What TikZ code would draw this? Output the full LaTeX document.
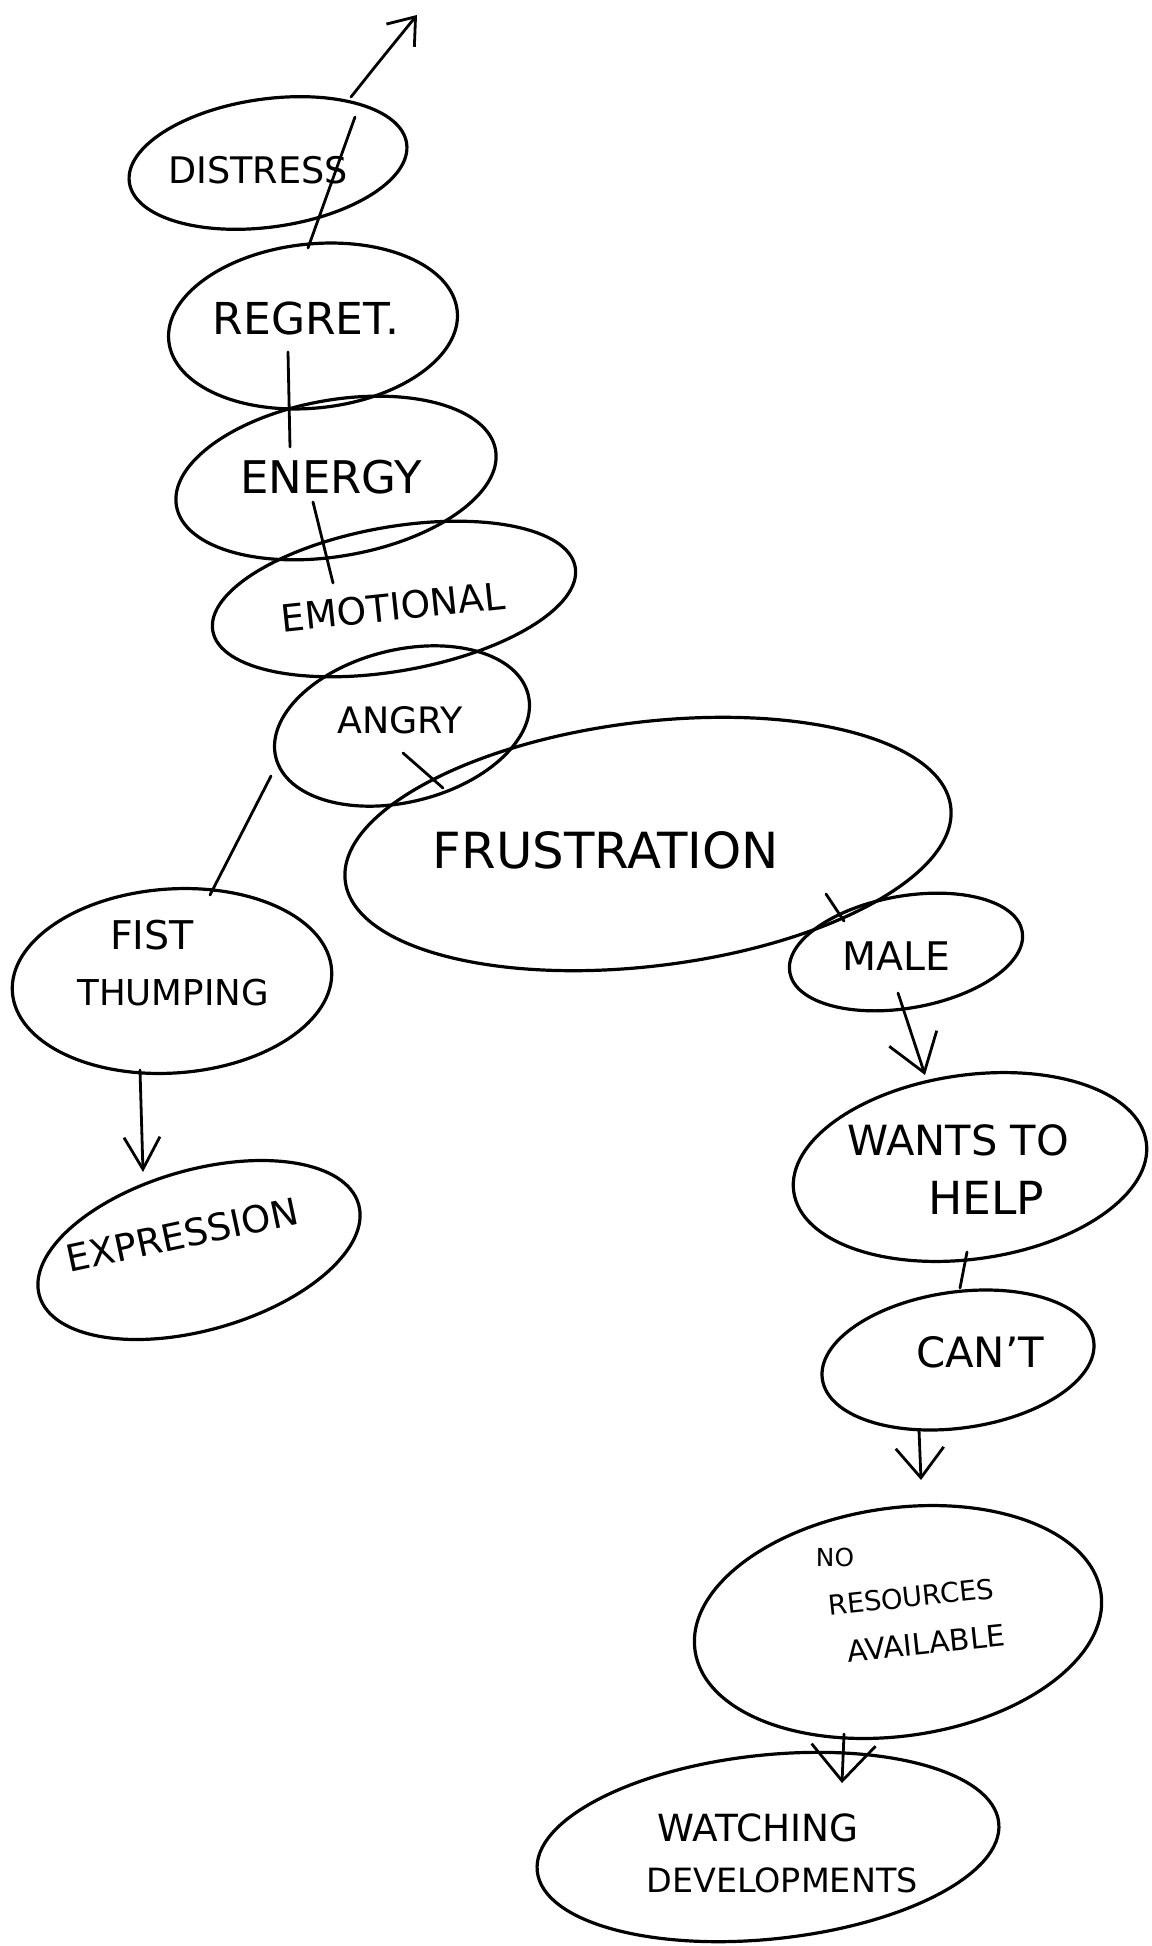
\documentclass[tikz,border=0pt]{standalone}
\usepackage{fontspec}
\setmainfont{DejaVu Sans}
\usetikzlibrary{shapes.geometric,arrows.meta,calc}
\newcommand{\fs}[1]{\fontsize{#1}{#1}\selectfont}
\tikzset{
  oval/.style={ellipse, draw, line width=1.6pt, inner sep=0pt},
  lbl/.style={inner sep=0pt},
  link/.style={line width=1.4pt, line cap=round},
}
\begin{document}
\begin{tikzpicture}[x=0.5pt,y=-0.5pt]
\fill[white] (0,0) rectangle (1151,1946);
\useasboundingbox (0,0) rectangle (1151,1946);

% ellipses (min width = rx pt, min height = ry pt)
\node[oval, minimum width=140pt, minimum height=64pt, rotate=8]  (distress)    at (268,163)  {};
\node[oval, minimum width=145pt, minimum height=82pt, rotate=6]  (regret)      at (313,326)  {};
\node[oval, minimum width=162pt, minimum height=78pt, rotate=10] (energy)      at (336,478)  {};
\node[oval, minimum width=184pt, minimum height=72pt, rotate=10] (emotional)   at (394,599)  {};
\node[oval, minimum width=130pt, minimum height=76pt, rotate=14] (angry)       at (402,726)  {};
\node[oval, minimum width=305pt, minimum height=122pt, rotate=7] (frustration) at (648,844)  {};
\node[oval, minimum width=160pt, minimum height=92pt, rotate=4]  (fist)        at (172,981)  {};
\node[oval, minimum width=166pt, minimum height=80pt, rotate=16] (expression)  at (199,1250) {};
\node[oval, minimum width=118pt, minimum height=56pt, rotate=10] (male)        at (906,952)  {};
\node[oval, minimum width=178pt, minimum height=92pt, rotate=8]  (wants)       at (970,1167) {};
\node[oval, minimum width=137pt, minimum height=68pt, rotate=8]  (cant)        at (958,1360) {};
\node[oval, minimum width=205pt, minimum height=114pt, rotate=8] (nores)       at (898,1622) {};
\node[oval, minimum width=232pt, minimum height=92pt, rotate=6]  (watch)       at (768,1847) {};

% labels
\node[lbl] (tDistress) at (258,170)  {\fs{18.3}DISTRESS};
\node[lbl] (tRegret)   at (306,318)  {\fs{22}REGRET.};
\node[lbl] (tEnergy)   at (331,477)  {\fs{22.5}ENERGY};
\node[lbl, rotate=6] (tEmotional) at (393,607) {\fs{18.8}EMOTIONAL};
\node[lbl] (tAngry)    at (400,720)  {\fs{18.2}ANGRY};
\node[lbl] (tFrust)    at (606,850)  {\fs{24.9}FRUSTRATION};
\node[lbl] (tFist)     at (152,935)  {\fs{19.8}FIST};
\node[lbl] (tThump)    at (173,993)  {\fs{17.8}THUMPING};
\node[lbl, rotate=12] (tExpr) at (182,1235) {\fs{18.6}EXPRESSION};
\node[lbl] (tMale)     at (896,956)  {\fs{19.7}MALE};
\node[lbl] (tWants)    at (958,1140) {\fs{20.8}WANTS TO};
\node[lbl] (tHelp)     at (986,1198) {\fs{22.8}HELP};
\node[lbl] (tCant)     at (980,1352) {\fs{20.9}CAN'T};
\node[lbl] (tNo)       at (835,1557) {\fs{12.4}NO};
\node[lbl, rotate=6] (tRes)   at (911,1597) {\fs{13.7}RESOURCES};
\node[lbl, rotate=6] (tAvail) at (926,1643) {\fs{14.8}AVAILABLE};
\node[lbl] (tWatch)    at (758,1828) {\fs{18.7}WATCHING};
\node[lbl] (tDev)      at (782,1880) {\fs{16.7}DEVELOPMENTS};

% free end of the top arrow
\coordinate (up) at (417,15);

% connectors
\draw[link, -{Straight Barb[length=12pt,width=18pt]}]
  ($(distress)+(83,-66)$) .. controls ($(distress)+(110,-100)$) .. (up);
\draw[link] ($(distress)+(87,-46)$) -- ($(regret)+(-5,-78)$);
\draw[link] ($(regret)+(-25,26)$) -- ($(energy)+(-46,-31)$);
\draw[link] ($(energy)+(-23,24)$) -- ($(emotional)+(-61,-16)$);
\draw[link] ($(angry)+(1,27)$) -- ($(frustration)+(-205,-56)$);
\draw[link] ($(angry)+(-131,50)$) -- ($(fist)+(38,-86)$);
\draw[link, -{Straight Barb[length=16pt,width=18pt]}] ($(fist)+(-32,89)$) -- ($(expression)+(-56,-78)$);
\draw[link] ($(frustration)+(178,50)$) -- ($(male)+(-62,-31)$);
\draw[link, -{Straight Barb[length=18pt,width=25pt]}] ($(male)+(-8,41)$) -- ($(wants)+(-45,-92)$);
\draw[link] ($(wants)+(-3,85)$) -- ($(cant)+(2,-72)$);
\draw[link, -{Straight Barb[length=15pt,width=24pt]}] ($(cant)+(-39,70)$) -- ($(nores)+(23,-142)$);
\draw[link, -{Straight Barb[length=18pt,width=32pt]}] ($(nores)+(-54,112)$) -- ($(watch)+(74,-64)$);
\end{tikzpicture}
\end{document}
